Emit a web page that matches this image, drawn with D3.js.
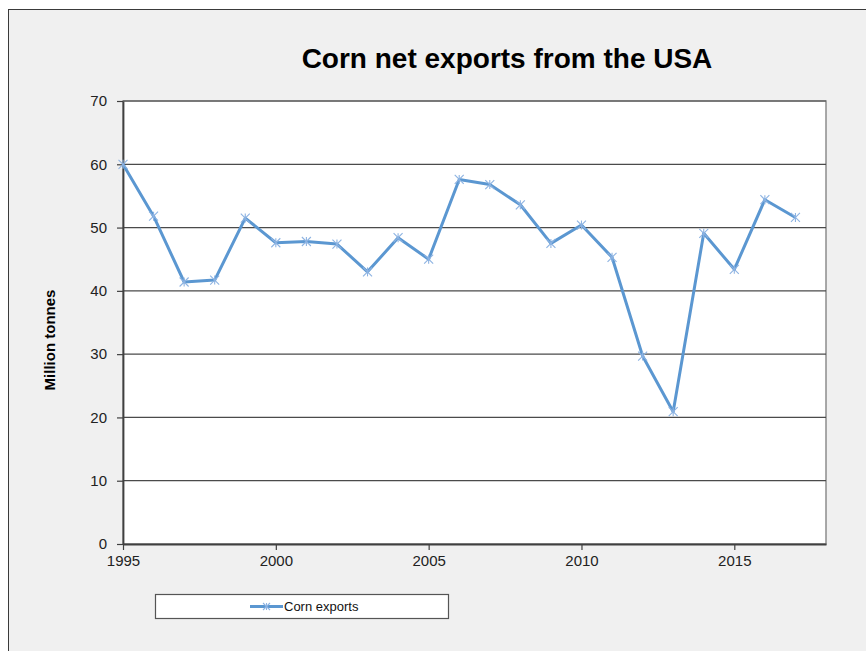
<!DOCTYPE html>
<html>
<head>
<meta charset="utf-8">
<script src="https://cdn.jsdelivr.net/npm/d3@7"></script>
<style>
  html, body { margin: 0; padding: 0; background: #ffffff; }
  svg { display: block; font-family: "Liberation Sans", Arial, sans-serif; }
</style>
</head>
<body>
<svg id="chart" width="866" height="651"></svg>
<script>
const title = "Corn net exports from the USA";
const yLabel = "Million tonnes";
const seriesName = "Corn exports";
const years = [1995,1996,1997,1998,1999,2000,2001,2002,2003,2004,2005,2006,2007,2008,2009,2010,2011,2012,2013,2014,2015,2016,2017];
const exportsVals = [60.0,51.8,41.4,41.7,51.5,47.6,47.8,47.4,43.0,48.4,45.0,57.6,56.8,53.6,47.5,50.4,45.3,29.7,20.9,49.1,43.4,54.4,51.6];
const yTicks = [0,10,20,30,40,50,60,70];
const xTicks = [1995,2000,2005,2010,2015];

const svg = d3.select("#chart");

// outer chart area
svg.append("rect").attr("x", 8.5).attr("y", 9.5).attr("width", 900).attr("height", 700)
  .attr("fill", "#f0f0f0").attr("stroke", "#3a3a3a").attr("stroke-width", 1);

const L = 123, R = 826, T = 101, B = 544;
const x = d3.scaleLinear().domain([1995, 2018]).range([L, R]);
const y = d3.scaleLinear().domain([0, 70]).range([B, T]);

// plot area
svg.append("rect").attr("x", L).attr("y", T).attr("width", R - L).attr("height", B - T)
  .attr("fill", "#ffffff").attr("stroke", "#8c8c8c").attr("stroke-width", 1.5);

// gridlines
svg.append("g").selectAll("line").data(yTicks.filter(d => d > 0)).join("line")
  .attr("x1", L).attr("x2", R)
  .attr("y1", d => y(d)).attr("y2", d => y(d))
  .attr("stroke", "#4a4a4a").attr("stroke-width", 1.2);

// y axis
const yAxis = svg.append("g").attr("transform", `translate(${L},0)`)
  .call(d3.axisLeft(y).tickValues(yTicks).tickSize(6).tickSizeOuter(0).tickPadding(10));
yAxis.select(".domain").attr("stroke", "#404040").attr("stroke-width", 1.8);
yAxis.selectAll(".tick line").attr("stroke", "#404040").attr("stroke-width", 1.2);
yAxis.selectAll("text").attr("font-size", 15).attr("fill", "#222").attr("font-family", "Liberation Sans, Arial, sans-serif");

// x axis
const xAxis = svg.append("g").attr("transform", `translate(0,${B})`)
  .call(d3.axisBottom(x).tickValues(xTicks).tickFormat(d3.format("d")).tickSize(6).tickSizeOuter(0).tickPadding(5));
xAxis.select(".domain").attr("stroke", "#404040").attr("stroke-width", 1.8);
xAxis.selectAll(".tick line").attr("stroke", "#404040").attr("stroke-width", 1.2);
xAxis.selectAll("text").attr("font-size", 15).attr("fill", "#222").attr("font-family", "Liberation Sans, Arial, sans-serif");

// line
const data = years.map((yr, i) => ({ yr, v: exportsVals[i] }));
svg.append("path").datum(data)
  .attr("fill", "none").attr("stroke", "#5b97d1").attr("stroke-width", 3)
  .attr("stroke-linejoin", "round")
  .attr("d", d3.line().x(d => x(d.yr)).y(d => y(d.v)));

// asterisk markers
function star(g, cx, cy, r) {
  const s = g.append("g").attr("transform", `translate(${cx},${cy})`)
    .attr("stroke", "#8db3e2").attr("stroke-width", 1.1);
  s.append("line").attr("x1", -r).attr("y1", -r).attr("x2", r).attr("y2", r);
  s.append("line").attr("x1", -r).attr("y1", r).attr("x2", r).attr("y2", -r);
  s.append("line").attr("x1", 0).attr("y1", -r).attr("x2", 0).attr("y2", r);
}
const mg = svg.append("g");
data.forEach(d => star(mg, x(d.yr), y(d.v), 4.5));

// title
svg.append("text").attr("x", 507).attr("y", 68).attr("text-anchor", "middle")
  .attr("font-size", 28).attr("font-weight", "bold").attr("fill", "#000").text(title);

// y label
svg.append("text").attr("transform", "translate(55,340) rotate(-90)")
  .attr("text-anchor", "middle").attr("font-size", 15).attr("font-weight", "bold")
  .attr("fill", "#000").text(yLabel);

// legend
const lg = svg.append("g");
lg.append("rect").attr("x", 155.5).attr("y", 594.5).attr("width", 293).attr("height", 24)
  .attr("fill", "#fff").attr("stroke", "#555").attr("stroke-width", 1.2);
lg.append("line").attr("x1", 250).attr("x2", 283).attr("y1", 606.5).attr("y2", 606.5)
  .attr("stroke", "#5b97d1").attr("stroke-width", 3);
star(lg, 266.5, 606.5, 3.5);
lg.append("text").attr("x", 284).attr("y", 611).attr("font-size", 13).attr("fill", "#111").text(seriesName);
</script>
</body>
</html>
